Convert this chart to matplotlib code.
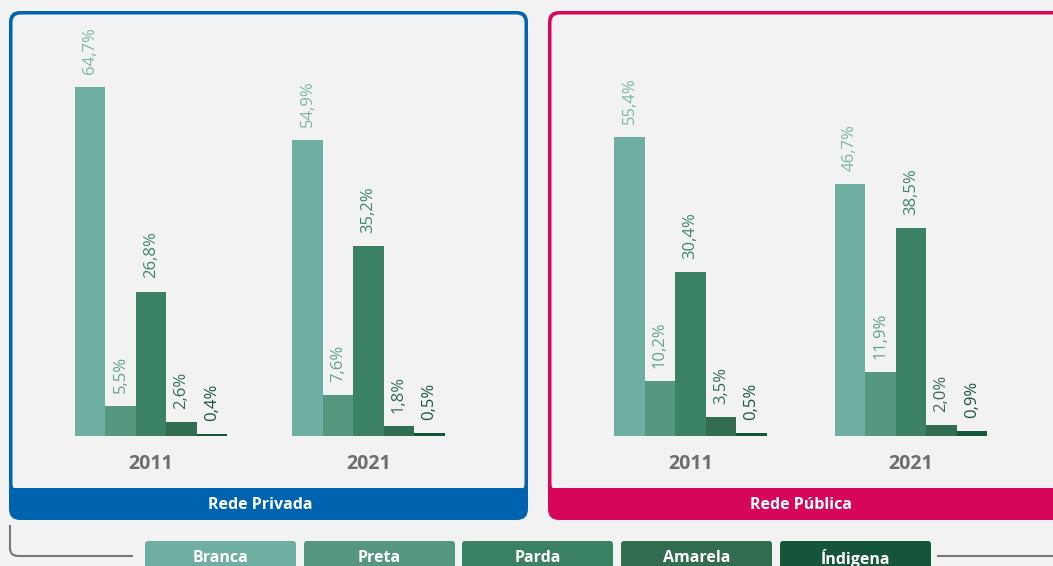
import matplotlib
matplotlib.use("Agg")
import matplotlib.pyplot as plt
from matplotlib.patches import FancyBboxPatch, Rectangle
from matplotlib.path import Path
from matplotlib.patches import PathPatch

plt.rcParams['font.family'] = ['Open Sans', 'DejaVu Sans']

# --- dados ---
categorias = ['Branca', 'Preta', 'Parda', 'Amarela', 'Índigena']
anos = ['2011', '2021']
privada_2011 = [64.7, 5.5, 26.8, 2.6, 0.4]
privada_2021 = [54.9, 7.6, 35.2, 1.8, 0.5]
publica_2011 = [55.4, 10.2, 30.4, 3.5, 0.5]
publica_2021 = [46.7, 11.9, 38.5, 2.0, 0.9]

cores = ['#6fafa1', '#56987f', '#3b8264', '#326c51', '#15553a']
cores_texto = ['#7cb7a8', '#62a48a', '#3f8767', '#336e52', '#17573b']
fundo = '#f2f2f2'
azul = '#0063b0'
magenta = '#d6065b'
cinza = '#6d6d6d'

W, H = 1053, 566
fig = plt.figure(figsize=(W / 100, H / 100), dpi=100)
fig.patch.set_facecolor(fundo)

# eixo de fundo em pixels
bg = fig.add_axes([0, 0, 1, 1])
bg.set_xlim(0, W)
bg.set_ylim(H, 0)
bg.axis('off')


def painel(x0, x1, cor, titulo, tx):
    y0, y1, yb = 11, 520, 488
    bg.add_patch(FancyBboxPatch((x0, y0), x1 - x0, y1 - y0,
                                boxstyle="round,pad=0,rounding_size=11",
                                fc=cor, ec='none'))
    bg.add_patch(FancyBboxPatch((x0 + 3.5, y0 + 3.5), x1 - x0 - 7, yb - y0,
                                boxstyle="round,pad=0,rounding_size=8",
                                fc=fundo, ec='none'))
    bg.add_patch(Rectangle((x0, yb), x1 - x0, 12, fc=cor, ec='none'))
    bg.text(tx, 505, titulo, color='white', fontsize=11.5, fontweight='bold',
            ha='center', va='center')


painel(9, 528, azul, 'Rede Privada', 260)
painel(548, 1075, magenta, 'Rede Pública', 801)

# legenda
leg_x = [145, 304, 462, 621, 780]
for cat, cor, lx in zip(categorias, cores, leg_x):
    bg.add_patch(FancyBboxPatch((lx, 541), 151, 40,
                                boxstyle="round,pad=0,rounding_size=3",
                                fc=cor, ec='none'))
    bg.text(lx + 75.5, 558, cat, color='white', fontsize=11.5,
            fontweight='bold', ha='center', va='center')

# linhas cinza da legenda
verts = [(10, 525), (10, 548), (10, 556), (18, 556), (133, 556)]
codes = [Path.MOVETO, Path.LINETO, Path.CURVE3, Path.CURVE3, Path.LINETO]
bg.add_patch(PathPatch(Path(verts, codes), fc='none', ec='#777777', lw=1.5))
bg.plot([938, 1053], [556, 556], color='#777777', lw=1.5)


def barras(L, R, c0, passo, dados):
    base, topo = 436, 59
    ax = fig.add_axes([L / W, (H - base) / H, (R - L) / W, (base - topo) / H])
    a = -(c0 - L) / passo
    b = a + (R - L) / passo
    ax.set_xlim(a, b)
    ax.set_ylim(0, (base - topo) / 5.39)
    ax.axis('off')
    larg = 30.5 / passo
    for g, vals in enumerate(dados):
        for i, v in enumerate(vals):
            x = g + (i - 2) * larg
            ax.bar(x, v, width=larg, color=cores[i], linewidth=0)
            txt = f"{v:.1f}".replace('.', ',') + '%'
            ax.annotate(txt, (x, v), xytext=(0, 9.4), textcoords='offset points',
                        rotation=90, ha='center', va='bottom', fontsize=12,
                        color=cores_texto[i], annotation_clip=False)
        ax.annotate(anos[g], (g, 0), xytext=(0, -20.5), textcoords='offset points',
                    ha='center', va='center', fontsize=14, fontweight='bold',
                    color=cinza, annotation_clip=False)
    return ax


barras(9, 528, 151, 217.5, [privada_2011, privada_2021])
barras(548, 1053, 690.5, 220.5, [publica_2011, publica_2021])

fig.savefig('out.png', dpi=100, facecolor=fundo)
